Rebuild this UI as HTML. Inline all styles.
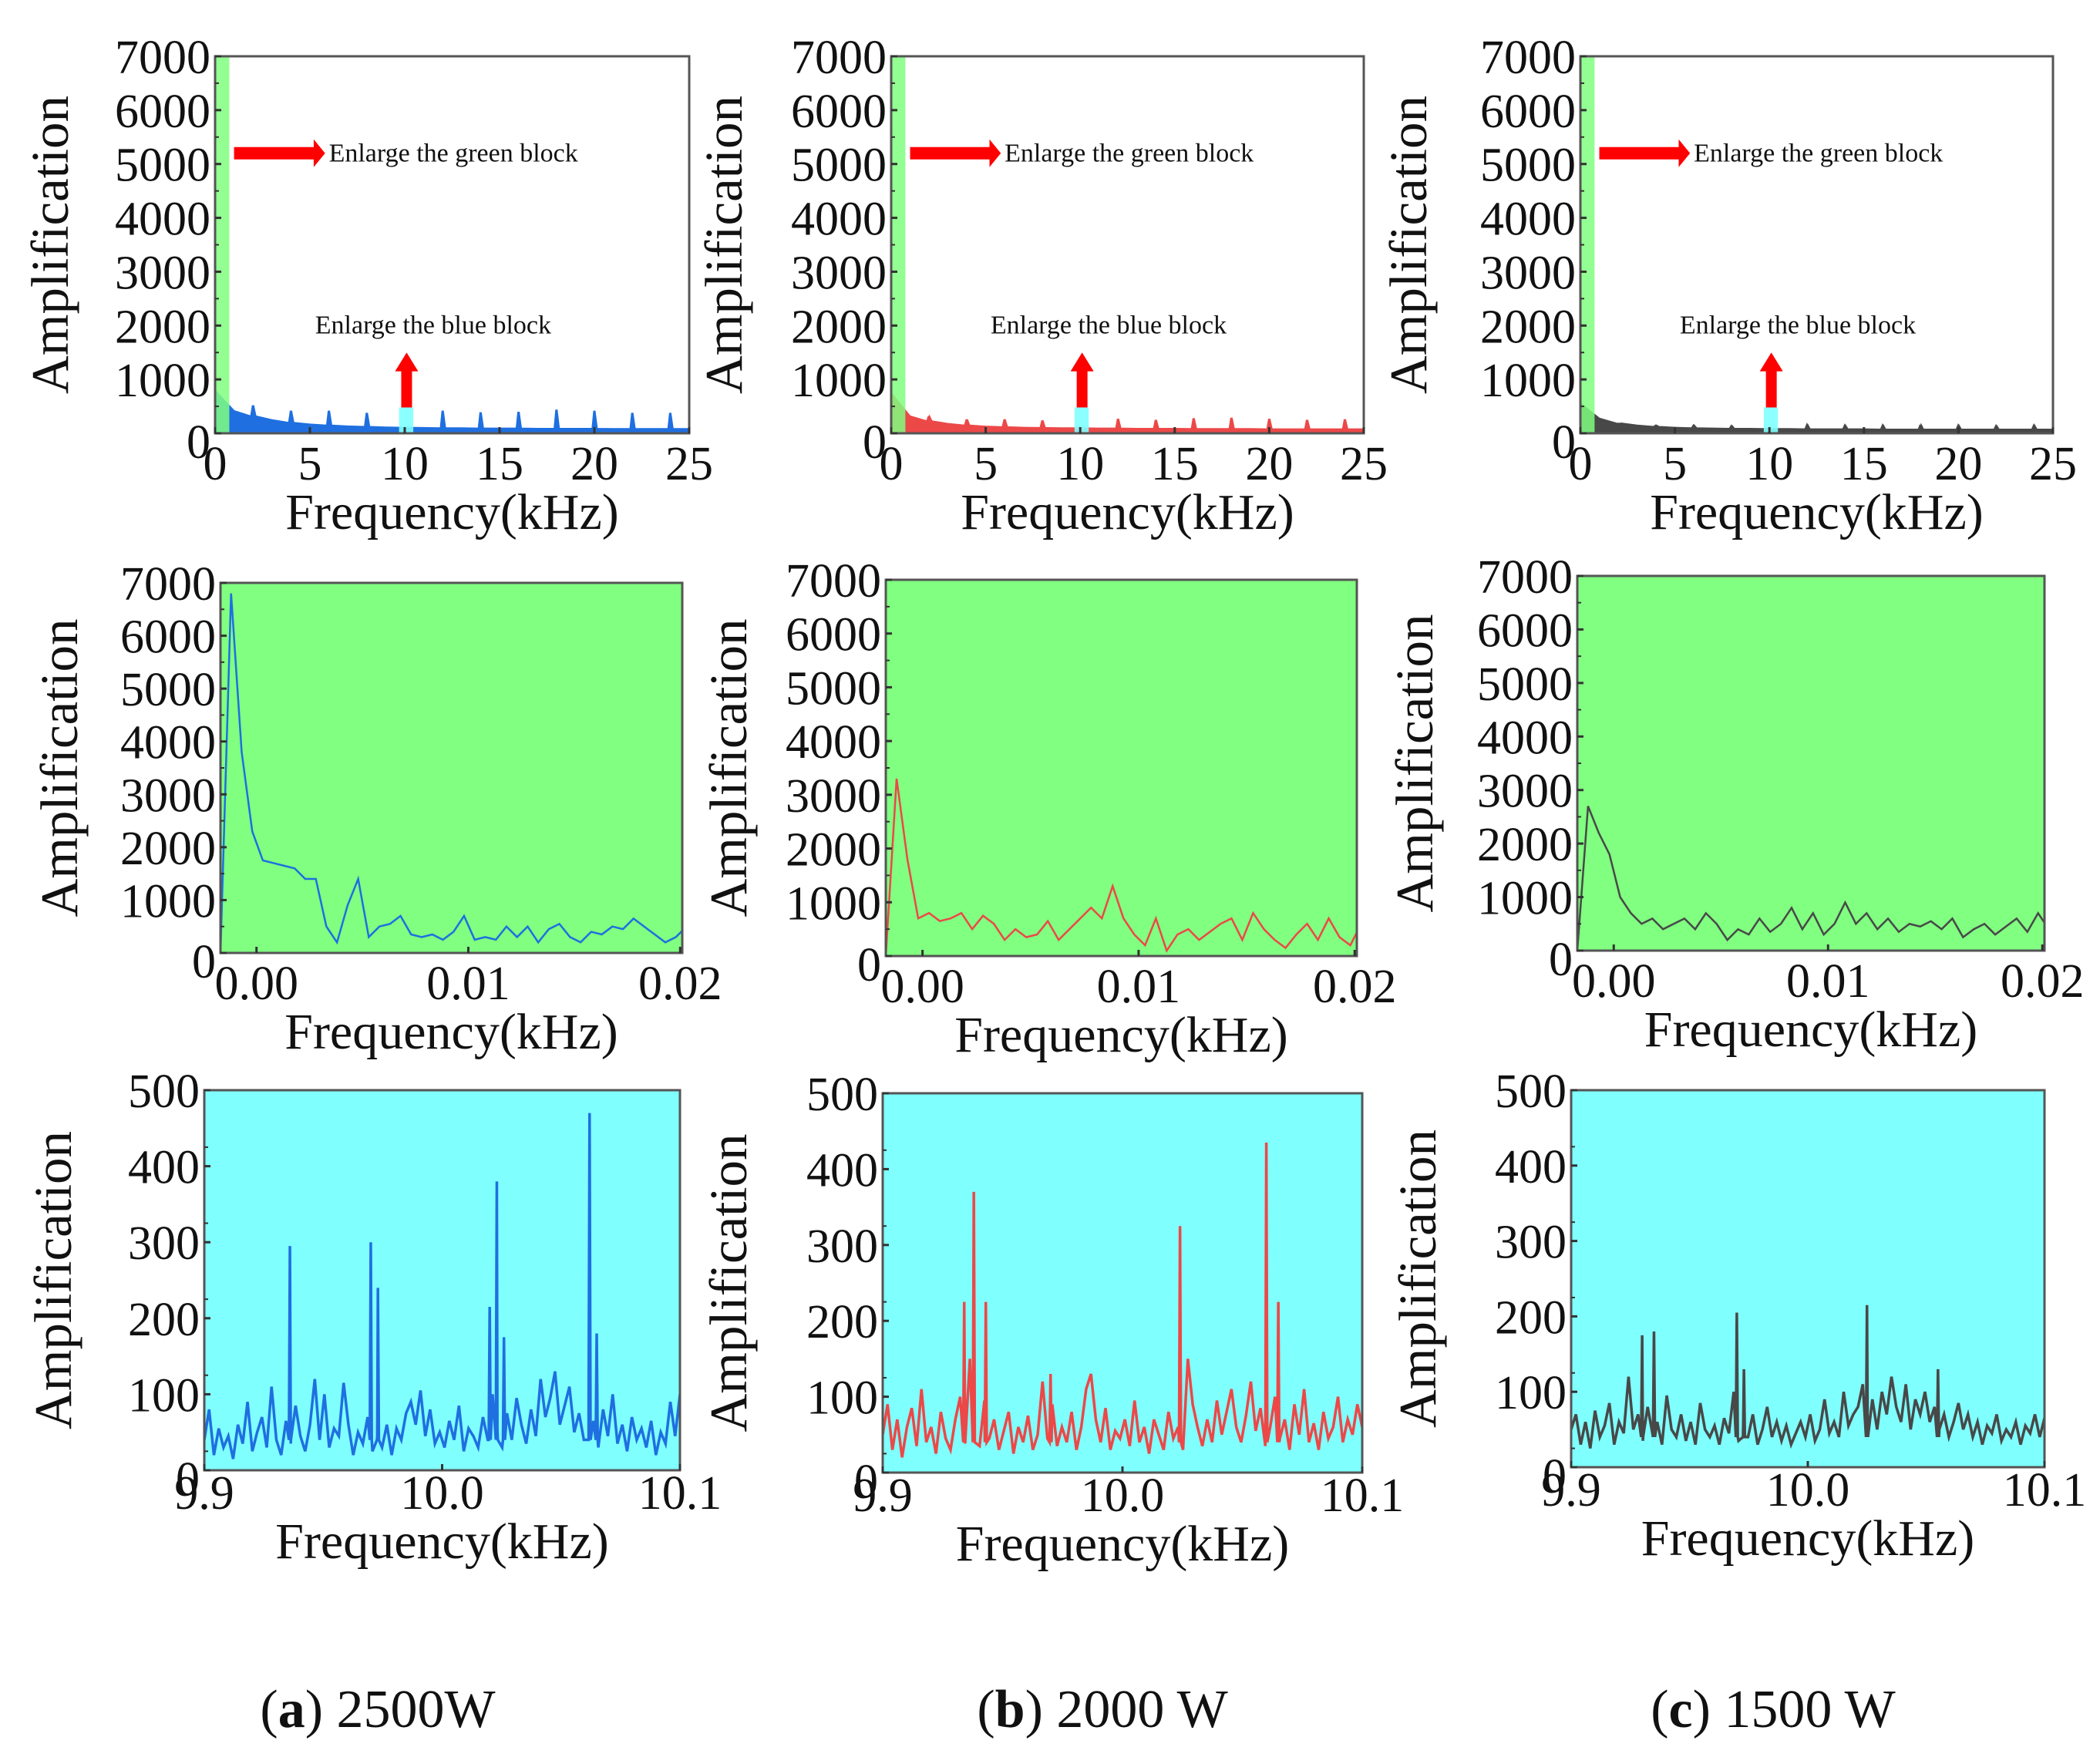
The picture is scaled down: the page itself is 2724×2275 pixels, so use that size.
<!DOCTYPE html>
<html><head><meta charset="utf-8"><style>
html,body{margin:0;padding:0;background:#fff}
svg{display:block}
text{font-family:"Liberation Serif",serif;fill:#111}
</style></head><body>
<svg id="fig" width="2724" height="2275" viewBox="0 0 2724 2275" xmlns="http://www.w3.org/2000/svg">
<text x="490" y="2240" font-size="70" text-anchor="middle">(<tspan font-weight="bold">a</tspan>) 2500W</text>
<text x="1430" y="2240" font-size="70" text-anchor="middle">(<tspan font-weight="bold">b</tspan>) 2000 W</text>
<text x="2300" y="2240" font-size="70" text-anchor="middle">(<tspan font-weight="bold">c</tspan>) 1500 W</text>
</svg>
<script>
// ---------- Row 1: full spectrum (kHz 0..25), baseline every 1 kHz + harmonic spikes ----------
const fullFreq = [0,1,2,3,4,5,6,7,8,9,10,11,12,13,14,15,16,17,18,19,20,21,22,23,24,25];
const fullBaseA = [800,420,320,250,200,170,150,135,125,115,110,105,100,100,95,95,95,90,90,90,90,85,85,85,85,85];
const fullBaseB = [750,320,230,180,150,130,120,110,105,100,100,95,95,90,90,90,85,85,85,85,80,80,80,80,80,80];
const fullBaseC = [560,280,190,150,125,110,100,95,90,90,85,85,80,80,80,80,75,75,75,75,75,75,75,75,75,75];
const spikeFreq = [2,4,6,8,12,14,16,18,20,22,24];
const spikeA = [520,420,420,380,420,390,400,440,420,380,380];
const spikeB = [320,260,260,240,270,250,280,290,270,250,260];
const spikeC = [180,150,150,140,160,150,150,160,150,140,150];
// ---------- Row 2: green block zoom ----------
const lowStart = -0.0017, lowStep = 0.0005;
const lowA = [0,6800,3800,2300,1750,1700,1650,1600,1400,1400,500,200,900,1400,300,500,550,700,350,300,350,250,400,700,250,300,250,500,300,500,200,450,550,300,200,400,350,500,450,650,500,350,200,300,500,300,250];
const lowB = [0,3300,1800,700,800,650,700,800,500,750,600,300,500,350,400,650,300,500,700,900,700,1300,700,400,200,700,100,400,500,300,450,600,700,300,800,500,300,150,400,600,300,700,350,200,600,350,450];
const lowC = [0,2700,2200,1800,1000,700,500,600,400,500,600,400,700,500,200,400,300,600,350,500,800,400,700,300,500,900,500,700,400,600,350,500,450,550,400,600,250,400,500,300,450,600,350,700,400,600,600];
// ---------- Row 3: blue block zoom (9.9..10.1 kHz) ----------
const noiseA = [40,80,20,55,30,45,15,60,35,90,25,50,70,30,110,40,20,65,35,85,45,25,60,120,40,100,30,55,45,115,60,20,50,35,70,25,45,30,60,20,55,40,75,90,60,105,45,80,35,50,30,65,40,85,25,55,45,30,70,40,100,55,30,75,40,95,60,35,80,45,120,70,95,130,60,85,110,50,75,40,95,65,30,80,45,100,35,60,25,70,40,55,30,65,20,50,35,90,45,100];
const noiseB = [50,90,30,70,20,60,85,35,110,40,60,25,80,45,30,70,100,40,150,60,35,95,45,70,30,55,80,25,60,40,75,30,50,120,45,90,35,60,40,80,30,60,110,130,70,40,85,30,55,45,70,35,95,40,60,25,70,50,30,80,45,60,30,150,90,60,35,70,40,95,50,80,110,60,40,75,120,55,85,35,60,100,45,70,30,90,50,110,40,65,30,80,45,60,100,40,70,50,90,60];
const noiseC = [50,70,30,60,25,75,40,55,85,30,60,45,120,50,70,35,80,45,60,30,95,50,40,70,35,60,30,85,50,40,55,30,65,45,100,35,60,40,70,30,50,80,40,60,35,55,30,45,60,40,70,35,50,90,45,60,40,100,55,70,80,110,60,90,50,100,70,120,80,60,110,50,90,70,100,60,80,50,70,40,60,85,50,70,40,60,30,55,45,70,35,50,40,60,30,55,45,70,40,65];
const peakXA = [9.936,9.970,9.973,10.020,10.023,10.026,10.062,10.065];
const peakYA = [295,300,240,215,380,175,470,180];
const peakXB = [9.934,9.938,9.943,9.970,10.024,10.060,10.065];
const peakYB = [225,370,225,130,325,435,225];
const peakXC = [9.930,9.935,9.970,9.973,10.025,10.055];
const peakYC = [175,180,205,130,215,130];

const NS='http://www.w3.org/2000/svg';
const svg=document.getElementById('fig');
function mk(tag,attrs,parent){const e=document.createElementNS(NS,tag);for(const k in attrs)e.setAttribute(k,attrs[k]);(parent||svg).appendChild(e);return e;}

const COLORS=['#1f6fe0','#ec4848','#484848'];
let clipId=0;
function panel(p){
  const g=mk('g',{});
  
  
  const sx=v=>p.x0+(v-p.xmin)/(p.xmax-p.xmin)*(p.x1-p.x0);
  const sy=v=>p.y1-(v/p.ymax)*(p.y1-p.y0);
  const bg=mk('rect',{x:p.x0,y:p.y0,width:p.x1-p.x0,height:p.y1-p.y0,fill:p.bg},g);
  
  
  const cid='c'+(clipId++);
  const cp=mk('clipPath',{id:cid},g);mk('rect',{x:p.x0,y:p.y0,width:p.x1-p.x0,height:p.y1-p.y0},cp);
  const inner=mk('g',{'clip-path':'url(#'+cid+')'},g);
  p.draw(inner,sx,sy);
  const fr=mk('rect',{x:p.x0,y:p.y0,width:p.x1-p.x0,height:p.y1-p.y0,fill:'none',stroke:'#555','stroke-width':3},g);
  
  
  p.yticks.forEach(v=>{
    mk('line',{x1:p.x0,x2:p.x0+8,y1:sy(v),y2:sy(v),stroke:'#333','stroke-width':3},g);
    if(v<p.ymax) mk('line',{x1:p.x0,x2:p.x0+5,y1:sy(v+p.ystep/2),y2:sy(v+p.ystep/2),stroke:'#333','stroke-width':2},g);
    const t=mk('text',{x:p.x0-6,y:sy(v)+(v===0?32:22),'font-size':62,'text-anchor':'end'},g);
    t.textContent=v;
    
    
  });
  p.xticks.forEach((v,i)=>{
    mk('line',{x1:sx(v),x2:sx(v),y1:p.y1,y2:p.y1-8,stroke:'#333','stroke-width':3},g);
    const t=mk('text',{x:sx(v),y:p.y1+p.xlabOff,'font-size':62,'text-anchor':'middle'},g);
    t.textContent=p.xlabels[i];
    
    
  });
  const xt=mk('text',{x:(p.x0+p.x1)/2,y:p.y1+p.xlabOff+64,'font-size':66,'text-anchor':'middle'},g);
  xt.textContent='Frequency(kHz)';
  
  
  const yc=(p.y0+p.y1)/2, yx=p.ytx;
  const yt=mk('text',{x:yx,y:yc,'font-size':69,'text-anchor':'middle',transform:`rotate(-90 ${yx} ${yc})`},g);
  yt.textContent='Amplification';
  
  
}

function fullDraw(base,spk,col){
  return (g,sx,sy)=>{
    let d=`M${sx(0)},${sy(0)} `;
    const pts=[];
    fullFreq.forEach((f,i)=>pts.push([f,base[i]]));
    spikeFreq.forEach((f,i)=>{const b=base[Math.round(f)];pts.push([f-0.12,b]);pts.push([f-0.03,spk[i]]);pts.push([f+0.03,spk[i]]);pts.push([f+0.15,b]);});
    pts.sort((a,b)=>a[0]-b[0]);
    pts.forEach(q=>{d+=`L${sx(q[0])},${sy(q[1])} `;});
    d+=`L${sx(25)},${sy(0)} Z`;
    const a=mk('path',{d:d,fill:col,stroke:col,'stroke-width':1.5},g);
    
    
    const gb=mk('rect',{x:sx(0),y:sy(7000),width:sx(0.75)-sx(0),height:sy(0)-sy(7000),fill:'#80ff80',opacity:0.85},g);
    
    
    const bb=mk('rect',{x:sx(9.7),y:sy(480),width:sx(10.45)-sx(9.7),height:sy(0)-sy(480),fill:'#80ffff',opacity:0.9},g);
    
    
    const ar=mk('path',{d:`M${sx(1.0)},${sy(5200)-8} L${sx(5.2)},${sy(5200)-8} L${sx(5.2)},${sy(5200)-18} L${sx(5.8)},${sy(5200)} L${sx(5.2)},${sy(5200)+18} L${sx(5.2)},${sy(5200)+8} L${sx(1.0)},${sy(5200)+8} Z`,fill:'#f00'},g);
    
    
    const t1=mk('text',{x:sx(6.0),y:sy(5200)+11,'font-size':34},g);t1.textContent='Enlarge the green block';
    
    
    const cx=sx(10.1);
    const ar2=mk('path',{d:`M${cx-7},${sy(480)} L${cx-7},${sy(1150)} L${cx-15},${sy(1150)} L${cx},${sy(1500)} L${cx+15},${sy(1150)} L${cx+7},${sy(1150)} L${cx+7},${sy(480)} Z`,fill:'#f00'},g);
    
    
    const t2=mk('text',{x:sx(11.5),y:sy(2000)+10,'font-size':34,'text-anchor':'middle'},g);t2.textContent='Enlarge the blue block';
    
    
  };
}
function lowDraw(vals,col){
  return (g,sx,sy)=>{
    const d=vals.map((v,i)=>(i?'L':'M')+sx(lowStart+i*lowStep)+','+sy(v)).join(' ');
    const l=mk('path',{d:d,fill:'none',stroke:col,'stroke-width':2.5},g);
    
    
  };
}
function hiDraw(noise,px,py,col){
  return (g,sx,sy)=>{
    const pts=noise.map((v,i)=>[9.9+i*0.2/(noise.length-1),v]);
    px.forEach((x,i)=>{pts.push([x-0.0004,40]);pts.push([x,py[i]]);pts.push([x+0.0004,40]);});
    pts.sort((a,b)=>a[0]-b[0]);
    const d=pts.map((q,i)=>(i?'L':'M')+sx(q[0])+','+sy(q[1])).join(' ');
    const l=mk('path',{d:d,fill:'none',stroke:col,'stroke-width':3.5},g);
    
    
  };
}

const r1={xmin:0,xmax:25,ymax:7000,ystep:1000,yticks:[0,1000,2000,3000,4000,5000,6000,7000],xticks:[0,5,10,15,20,25],xlabels:['0','5','10','15','20','25'],bg:'#fff',xlabOff:60};
const r2={xmin:lowStart,xmax:0.0201,ymax:7000,ystep:1000,yticks:[0,1000,2000,3000,4000,5000,6000,7000],xticks:[0,0.01,0.02],xlabels:['0.00','0.01','0.02'],bg:'#80ff80',xlabOff:60};
const r3={xmin:9.9,xmax:10.1,ymax:500,ystep:50,yticks:[0,100,200,300,400,500],xticks:[9.9,10.0,10.1],xlabels:['9.9','10.0','10.1'],bg:'#80ffff',xlabOff:50};

const defs=[
 [r1,279,894,73,562,88,'full-spectrum-a',fullDraw(fullBaseA,spikeA,COLORS[0])],
 [r1,1156,1769,73,562,962,'full-spectrum-b',fullDraw(fullBaseB,spikeB,COLORS[1])],
 [r1,2050,2663,73,562,1850,'full-spectrum-c',fullDraw(fullBaseC,spikeC,COLORS[2])],
 [r2,286,885,756,1236,100,'green-zoom-a',lowDraw(lowA,COLORS[0])],
 [r2,1149,1760,752,1240,968,'green-zoom-b',lowDraw(lowB,COLORS[1])],
 [r2,2046,2652,747,1233,1858,'green-zoom-c',lowDraw(lowC,COLORS[2])],
 [r3,265,882,1414,1907,92,'blue-zoom-a',hiDraw(noiseA,peakXA,peakYA,COLORS[0])],
 [r3,1145,1767,1418,1910,968,'blue-zoom-b',hiDraw(noiseB,peakXB,peakYB,COLORS[1])],
 [r3,2038,2652,1414,1903,1862,'blue-zoom-c',hiDraw(noiseC,peakXC,peakYC,COLORS[2])]
];
defs.forEach(d=>panel(Object.assign({},d[0],{x0:d[1],x1:d[2],y0:d[3],y1:d[4],ytx:d[5],name:d[6],draw:d[7]})));
</script>
</body></html>
